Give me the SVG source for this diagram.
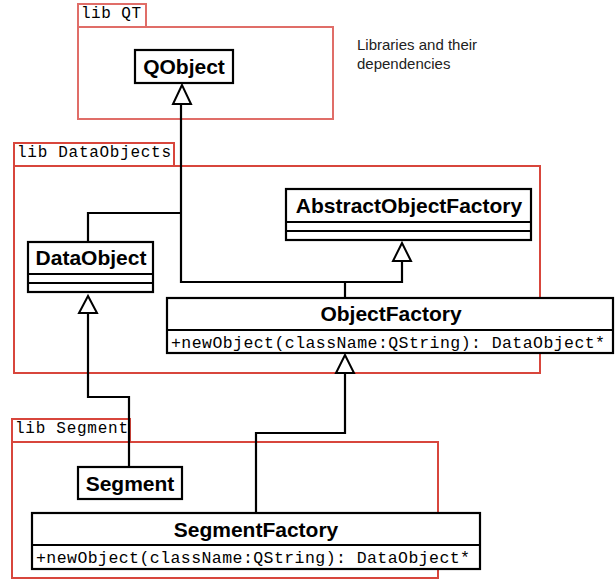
<svg xmlns="http://www.w3.org/2000/svg" width="615" height="581" viewBox="0 0 615 581">
<style>
.pkg{fill:none;stroke:#d8463c;stroke-width:2}
.pkgqt{fill:none;stroke:#e06d68;stroke-width:2}
.box{fill:#fff;stroke:#000;stroke-width:2.2}
.ln{fill:none;stroke:#000;stroke-width:2.2}
.tri{fill:#fff;stroke:#000;stroke-width:2}
.mono{font-family:"Liberation Mono","Courier New",monospace;font-size:16.5px;fill:#000}
.pl{font-family:"Liberation Mono","Courier New",monospace;font-size:16px;fill:#000}
.name{font-family:"Liberation Sans",Arial,sans-serif;font-size:21px;font-weight:bold;fill:#000;text-anchor:middle}
.note{font-family:"Liberation Sans",Arial,sans-serif;font-size:15px;fill:#222}
</style>
<rect width="615" height="581" fill="#fff"/>
<g id="pkg-qt">
<rect class="pkgqt" x="78" y="4" width="68" height="23"/>
<rect class="pkgqt" x="78" y="27" width="255" height="92"/>
<text class="pl" x="81" y="18" textLength="60">lib QT</text>
</g>
<g id="pkg-dataobjects">
<rect class="pkg" x="14" y="143" width="160" height="23"/>
<rect class="pkg" x="14" y="166" width="526" height="207"/>
<text class="pl" x="17" y="157" textLength="154">lib DataObjects</text>
</g>
<g id="pkg-segment">
<rect class="pkg" x="12" y="419" width="118" height="23"/>
<rect class="pkg" x="12" y="442" width="426" height="136"/>
<text class="pl" x="15" y="433" textLength="113">lib Segment</text>
</g>
<text class="note" x="357" y="50">Libraries and their</text>
<text class="note" x="357" y="69">dependencies</text>
<g id="connectors">
<polyline class="ln" points="181,104 181,282 402,282 402,261"/>
<polyline class="ln" points="345,282 345,298"/>
<polyline class="ln" points="181,213 88,213 88,242"/>
<polyline class="ln" points="88,313 88,397 129,397 129,467"/>
<polyline class="ln" points="345,373 345,433 256,433 256,513"/>
<polygon class="tri" points="182,85 173,104 191,104"/>
<polygon class="tri" points="402,243 393,261 411,261"/>
<polygon class="tri" points="88,296 79,313 97,313"/>
<polygon class="tri" points="345,355 336,373 354,373"/>
</g>
<g id="QObject">
<rect class="box" x="135" y="50" width="98" height="33"/>
<text class="name" x="184" y="74">QObject</text>
</g>
<g id="AbstractObjectFactory">
<rect class="box" x="286" y="189" width="245" height="51"/>
<line class="ln" x1="286" y1="222" x2="531" y2="222"/>
<line class="ln" x1="286" y1="231" x2="531" y2="231"/>
<text class="name" x="409" y="213">AbstractObjectFactory</text>
</g>
<g id="DataObject">
<rect class="box" x="28" y="242" width="125" height="50"/>
<line class="ln" x1="28" y1="274" x2="153" y2="274"/>
<line class="ln" x1="28" y1="283" x2="153" y2="283"/>
<text class="name" x="91" y="265">DataObject</text>
</g>
<g id="ObjectFactory">
<rect class="box" x="167" y="298" width="446" height="55"/>
<line class="ln" x1="167" y1="330" x2="613" y2="330"/>
<text class="name" x="391" y="321">ObjectFactory</text>
<text class="mono" x="171" y="348" textLength="434">+newObject(className:QString): DataObject*</text>
</g>
<g id="Segment">
<rect class="box" x="78" y="467" width="104" height="32"/>
<text class="name" x="130" y="491">Segment</text>
</g>
<g id="SegmentFactory">
<rect class="box" x="32" y="513" width="448" height="56"/>
<line class="ln" x1="32" y1="545" x2="480" y2="545"/>
<text class="name" x="256" y="537">SegmentFactory</text>
<text class="mono" x="36" y="563" textLength="434">+newObject(className:QString): DataObject*</text>
</g>
</svg>
